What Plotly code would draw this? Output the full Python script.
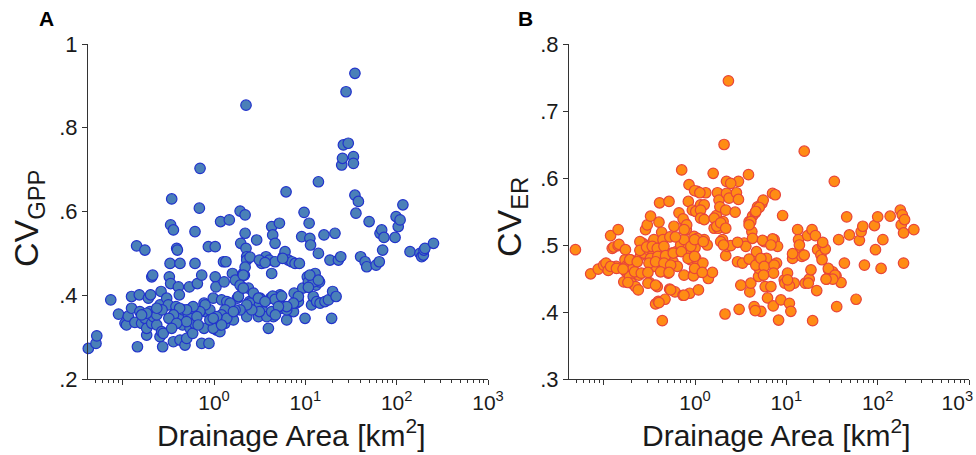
import plotly.graph_objects as go

# ---------------- Panel A: CV of GPP vs drainage area ----------------
gpp_area = [
    0.042, 0.051, 0.052, 0.074, 0.090, 0.106, 0.110, 0.115, 0.125, 0.125,
    0.136, 0.142, 0.145, 0.152, 0.154, 0.161, 0.175, 0.175, 0.183, 0.183,
    0.191, 0.199, 0.202, 0.208, 0.213, 0.208, 0.217, 0.236, 0.236, 0.256,
    0.263, 0.256, 0.267, 0.274, 0.278, 0.303, 0.316, 0.324, 0.330, 0.335,
    0.344, 0.335, 0.359, 0.359, 0.374, 0.383, 0.390, 0.397, 0.407, 0.417,
    0.424, 0.424, 0.442, 0.453, 0.461, 0.481, 0.502, 0.524, 0.537, 0.546,
    0.569, 0.584, 0.609, 0.619, 0.619, 0.657, 0.691, 0.703, 0.733, 0.733,
    0.777, 0.777, 0.797, 0.867, 0.88, 0.90, 0.98, 1.03, 1.03, 1.05,
    1.07, 1.12, 1.16, 1.18, 1.21, 1.27, 1.29, 1.32, 1.35, 1.38,
    1.47, 1.50, 1.59, 1.63, 1.71, 1.80, 1.85, 1.93, 1.96, 2.01,
    2.09, 2.15, 2.19, 2.19, 2.24, 2.24, 2.28, 2.28, 2.28, 2.38,
    2.44, 2.48, 2.70, 2.93, 3.06, 3.14, 3.19, 3.33, 3.47, 3.71,
    3.94, 4.03, 4.17, 4.28, 4.28, 4.39, 4.47, 4.54, 4.66, 4.66,
    4.78, 5.20, 5.28, 5.50, 5.74, 5.99, 6.15, 6.25, 6.52, 6.80,
    7.10, 7.41, 7.54, 7.72, 7.92, 8.39, 8.60, 9.12, 9.36, 9.68,
    9.92, 10.5, 10.8, 11.0, 11.2, 11.4, 11.7, 12.2, 12.8, 13.1,
    13.3, 13.9, 14.3, 13.9, 14.5, 16.0, 16.4, 17.9, 18.6, 19.4,
    19.9, 21.1, 21.7, 23.0, 24.4, 25.0, 25.5, 26.1, 27.9, 29.5,
    33.6, 33.6, 34.9, 34.9, 35.8, 38.1, 40.3, 45.1, 47.0, 49.9,
    59.5, 64.5, 65.7, 68.5, 70.2, 72.6, 96, 98.5, 104, 109,
    117, 140, 180, 188, 196, 199, 204, 253,
    2.48, 3.14, 3.62, 5.65, 2.19, 2.09, 1.93, 2.09, 3.06, 4.39,
    4.66, 5.50, 5.74, 8.39, 12.2, 11.2, 13.9, 10.8, 7.41, 6.25,
    6.25, 3.62, 3.78, 4.28, 5.07, 4.70, 3.14, 2.59, 2.28, 1.93,
    1.70, 1.50, 1.32, 1.21, 1.16, 1.38, 1.63, 1.07, 0.98, 0.90,
    0.80, 0.70, 0.65, 0.59, 0.50, 0.42, 0.36, 0.32, 0.27, 0.236,
    0.183, 0.161, 0.50, 0.39, 0.344, 0.67, 0.98, 1.21,
]
gpp_cv = [
    0.273, 0.285, 0.303, 0.389, 0.355, 0.333, 0.329, 0.350, 0.369, 0.397,
    0.335, 0.518, 0.277, 0.401, 0.361, 0.333, 0.508, 0.345, 0.305, 0.321,
    0.393, 0.361, 0.401, 0.444, 0.448, 0.333, 0.349, 0.329, 0.353, 0.377,
    0.409, 0.301, 0.313, 0.277, 0.309, 0.393, 0.377, 0.444, 0.476, 0.428,
    0.630, 0.568, 0.556, 0.289, 0.357, 0.373, 0.512, 0.508, 0.420, 0.401,
    0.476, 0.293, 0.349, 0.329, 0.365, 0.281, 0.297, 0.353, 0.420, 0.321,
    0.369, 0.309, 0.333, 0.552, 0.476, 0.428, 0.608, 0.703, 0.448, 0.285,
    0.381, 0.321, 0.361, 0.516, 0.285, 0.365, 0.393, 0.516, 0.444, 0.420,
    0.317, 0.345, 0.313, 0.576, 0.389, 0.480, 0.432, 0.333, 0.480, 0.385,
    0.580, 0.361, 0.452, 0.341, 0.436, 0.393, 0.397, 0.601, 0.524, 0.420,
    0.452, 0.448, 0.592, 0.548, 0.512, 0.854, 0.492, 0.349, 0.484, 0.417,
    0.385, 0.381, 0.405, 0.532, 0.349, 0.377, 0.393, 0.476, 0.361, 0.492,
    0.321, 0.484, 0.393, 0.564, 0.452, 0.544, 0.349, 0.357, 0.524, 0.480,
    0.389, 0.572, 0.401, 0.369, 0.492, 0.504, 0.647, 0.341, 0.484, 0.365,
    0.480, 0.361, 0.405, 0.476, 0.381, 0.385, 0.476, 0.540, 0.417, 0.598,
    0.345, 0.444, 0.432, 0.572, 0.536, 0.520, 0.377, 0.397, 0.452, 0.424,
    0.385, 0.500, 0.432, 0.671, 0.381, 0.544, 0.385, 0.389, 0.484, 0.345,
    0.409, 0.548, 0.397, 0.484, 0.492, 0.711, 0.727, 0.759, 0.886, 0.763,
    0.731, 0.715, 0.930, 0.639, 0.596, 0.624, 0.492, 0.480, 0.468, 0.576,
    0.472, 0.480, 0.548, 0.556, 0.508, 0.538, 0.538, 0.588, 0.564, 0.580,
    0.616, 0.504, 0.500, 0.492, 0.496, 0.508, 0.512, 0.524,
    0.491, 0.484, 0.478, 0.488, 0.467, 0.448, 0.424, 0.417, 0.393, 0.398,
    0.390, 0.398, 0.373, 0.397, 0.432, 0.448, 0.436, 0.419, 0.381, 0.365,
    0.373, 0.385, 0.349, 0.361, 0.373, 0.353, 0.361, 0.365, 0.377, 0.365,
    0.365, 0.381, 0.365, 0.353, 0.329, 0.345, 0.361, 0.349, 0.321, 0.341,
    0.377, 0.361, 0.349, 0.373, 0.365, 0.369, 0.353, 0.345, 0.365, 0.369,
    0.357, 0.353, 0.337, 0.333, 0.321, 0.329, 0.345, 0.329,
]

# ---------------- Panel B: CV of ER vs drainage area ----------------
er_area = [
    0.040, 0.041, 0.049, 0.072, 0.087, 0.100, 0.106, 0.112, 0.119, 0.124,
    0.129, 0.137, 0.144, 0.144, 0.147, 0.166, 0.171, 0.173, 0.176, 0.181,
    0.185, 0.192, 0.197, 0.202, 0.209, 0.223, 0.239, 0.243, 0.253, 0.260,
    0.264, 0.275, 0.287, 0.300, 0.308, 0.318, 0.326, 0.334, 0.340, 0.346,
    0.355, 0.364, 0.370, 0.386, 0.396, 0.403, 0.409, 0.420, 0.431, 0.438,
    0.446, 0.457, 0.469, 0.476, 0.509, 0.519, 0.527, 0.555, 0.574, 0.588,
    0.603, 0.624, 0.640, 0.667, 0.696, 0.714, 0.738, 0.757, 0.776, 0.803,
    0.824, 0.845, 0.859, 0.874, 0.896, 0.935, 0.951, 0.975, 1.00, 1.02,
    1.06, 1.09, 1.11, 1.13, 1.15, 1.20, 1.22, 1.26, 1.31, 1.36,
    1.40, 1.55, 1.58, 1.62, 1.71, 1.76, 1.80, 1.83, 1.87, 2.00,
    2.03, 2.08, 2.13, 2.17, 2.17, 2.21, 2.21, 2.26, 2.32, 2.36,
    2.46, 2.75, 2.84, 2.92, 2.99, 2.99, 3.04, 3.17, 3.31, 3.45,
    3.60, 3.85, 3.91, 3.98, 4.08, 4.19, 4.26, 4.44, 4.56, 4.63,
    4.71, 4.83, 4.96, 5.04, 5.26, 5.39, 5.58, 5.72, 5.87, 6.07,
    6.22, 6.77, 7.06, 7.18, 7.36, 7.55, 7.81, 8.01, 8.22, 8.72,
    9.10, 9.48, 10.3, 10.8, 11.2, 11.7, 12.2, 13.3, 13.6, 14.1,
    14.8, 15.7, 16.1, 17.1, 17.8, 19.1, 19.4, 20.8, 21.5, 22.0,
    23.9, 24.6, 25.0, 26.7, 27.7, 29.1, 32.2, 33.5, 35.0, 35.6,
    37.4, 39.7, 43.2, 45.8, 49.0, 58.0, 63.1, 65.9, 68.7, 71.6,
    92.2, 94.6, 100, 109, 114, 137, 177, 181, 186, 192,
    192, 197, 249,
    0.99, 1.02, 0.74, 0.81, 0.76, 0.53, 0.61, 1.06, 0.249, 0.249,
    0.295, 0.340, 0.386, 0.457, 0.90, 0.326, 0.392, 0.476, 0.578, 0.708,
    0.84, 0.99, 0.193, 0.233, 0.313, 0.370, 0.457, 0.541, 0.119, 0.138,
    0.163, 0.218, 0.258, 0.305, 0.420, 0.519, 0.757, 0.96, 0.184, 0.305,
    0.370, 0.541, 0.757, 0.403, 2.46, 1.13, 5.04, 4.63, 4.08, 3.91,
    1.26, 1.15, 1.15, 1.26, 1.62, 1.73, 1.91, 2.17, 4.26, 5.48,
    7.06, 6.77, 25.0, 13.9, 15.7, 11.7, 0.99, 1.23, 1.91, 2.05,
    2.92, 3.91, 4.63, 5.26, 5.72, 7.36, 7.24, 5.62, 0.99, 1.20,
    9.64, 10.8, 10.3, 18.6, 17.4, 4.56, 28.8, 34.1, 32.2, 27.2,
]
er_cv = [
    0.488, 0.482, 0.493, 0.457, 0.464, 0.470, 0.473, 0.462, 0.514, 0.495,
    0.497, 0.468, 0.523, 0.499, 0.501, 0.445, 0.478, 0.493, 0.460, 0.470,
    0.468, 0.453, 0.478, 0.443, 0.465, 0.438, 0.433, 0.455, 0.484, 0.495,
    0.503, 0.488, 0.523, 0.530, 0.493, 0.444, 0.543, 0.473, 0.503, 0.490,
    0.508, 0.468, 0.412, 0.438, 0.416, 0.534, 0.563, 0.495, 0.519, 0.387,
    0.508, 0.483, 0.419, 0.463, 0.458, 0.565, 0.434, 0.488, 0.475, 0.528,
    0.430, 0.490, 0.468, 0.548, 0.500, 0.612, 0.425, 0.508, 0.533, 0.523,
    0.494, 0.565, 0.590, 0.428, 0.478, 0.552, 0.455, 0.513, 0.496, 0.480,
    0.580, 0.433, 0.548, 0.460, 0.560, 0.540, 0.473, 0.508, 0.578, 0.500,
    0.450, 0.459, 0.607, 0.525, 0.544, 0.578, 0.525, 0.567, 0.557, 0.508,
    0.535, 0.650, 0.397, 0.552, 0.484, 0.577, 0.595, 0.498, 0.745, 0.570,
    0.499, 0.549, 0.578, 0.475, 0.595, 0.568, 0.404, 0.440, 0.473, 0.503,
    0.498, 0.605, 0.535, 0.430, 0.443, 0.520, 0.543, 0.408, 0.548, 0.483,
    0.490, 0.557, 0.453, 0.465, 0.401, 0.562, 0.567, 0.505, 0.438, 0.480,
    0.421, 0.438, 0.577, 0.409, 0.508, 0.575, 0.473, 0.498, 0.388, 0.418,
    0.544, 0.448, 0.458, 0.413, 0.401, 0.480, 0.443, 0.523, 0.508, 0.487,
    0.483, 0.640, 0.443, 0.514, 0.449, 0.523, 0.387, 0.514, 0.432, 0.493,
    0.485, 0.478, 0.500, 0.494, 0.449, 0.463, 0.460, 0.595, 0.454, 0.408,
    0.508, 0.444, 0.473, 0.542, 0.515, 0.419, 0.507, 0.520, 0.528, 0.470,
    0.529, 0.493, 0.542, 0.465, 0.508, 0.543, 0.552, 0.530, 0.545, 0.518,
    0.473, 0.538, 0.523,
    0.581, 0.550, 0.539, 0.530, 0.523, 0.512, 0.512, 0.510, 0.505, 0.492,
    0.497, 0.498, 0.495, 0.498, 0.498, 0.480, 0.483, 0.484, 0.488, 0.490,
    0.480, 0.483, 0.478, 0.475, 0.473, 0.475, 0.473, 0.470, 0.468, 0.465,
    0.464, 0.460, 0.458, 0.459, 0.460, 0.459, 0.455, 0.454, 0.444, 0.443,
    0.440, 0.433, 0.425, 0.414, 0.592, 0.578, 0.556, 0.550, 0.535, 0.530,
    0.560, 0.552, 0.540, 0.538, 0.540, 0.528, 0.533, 0.525, 0.510, 0.507,
    0.509, 0.500, 0.504, 0.500, 0.485, 0.487, 0.508, 0.505, 0.505, 0.500,
    0.504, 0.479, 0.470, 0.480, 0.468, 0.470, 0.458, 0.455, 0.465, 0.459,
    0.443, 0.439, 0.448, 0.463, 0.443, 0.402, 0.465, 0.455, 0.449, 0.449,
]

x_tickvals = [0.1, 1, 10, 100, 1000]
xa_ticktext = ["", "10<sup>0</sup>", "10<sup>1</sup>", "10<sup>2</sup>", "10<sup>3</sup>"]
xb_ticktext = ["", "10<sup>0</sup>", "10<sup>1</sup>", "10<sup>2</sup>",
               "10<sup>3</sup>&nbsp;&nbsp;&nbsp;&nbsp;"]
x_minor = [m * 10.0 ** k for k in range(-2, 3) for m in range(2, 10)]

ya_vals = [0.2, 0.4, 0.6, 0.8, 1.0]
ya_text = [".2", ".4", ".6", ".8", "1"]
yb_vals = [0.3, 0.4, 0.5, 0.6, 0.7, 0.8]
yb_text = [".3", ".4", ".5", ".6", ".7", ".8"]

FONT = "Arial, Liberation Sans, sans-serif"
TXT = "#1a1a1a"
AX = "#333333"

fig = go.Figure()
fig.add_trace(go.Scatter(
    x=gpp_area, y=gpp_cv, mode="markers", xaxis="x", yaxis="y", cliponaxis=False,
    marker=dict(size=10.5, color="#4a80b8", line=dict(color="#2233cc", width=1.2)),
    showlegend=False))
fig.add_trace(go.Scatter(
    x=er_area, y=er_cv, mode="markers", xaxis="x2", yaxis="y2", cliponaxis=False,
    marker=dict(size=10.5, color="#ff8c14", line=dict(color="#e8453a", width=1.2)),
    showlegend=False))

xcommon = dict(type="log", range=[-1.38, 3.0], showgrid=False, zeroline=False,
               automargin=False, ticklabeloverflow="allow",
               showline=True, linecolor=AX, linewidth=1,
               ticks="outside", ticklen=5, tickcolor=AX, tickwidth=1,
               tickmode="array", tickvals=x_tickvals,
               tickfont=dict(family=FONT, size=21, color=TXT),
               minor=dict(tickmode="array", tickvals=x_minor, ticks="outside",
                          ticklen=3, tickcolor=AX, tickwidth=1, showgrid=False))
ycommon = dict(showgrid=False, zeroline=False, showline=True, linecolor=AX, linewidth=1,
               automargin=False,
               ticks="outside", ticklen=5, tickcolor=AX, tickwidth=1,
               tickfont=dict(family=FONT, size=22, color=TXT), tickmode="array")

def note(text, px, py, size, angle=0, bold=False):
    return dict(text=text, x=px / 976, y=1 - py / 455, xref="paper", yref="paper",
                xanchor="center", yanchor="middle", showarrow=False, textangle=angle,
                font=dict(family=FONT, size=size, color="black" if bold else TXT))

fig.update_layout(
    template="none",
    width=976, height=455, margin=dict(l=0, r=0, t=0, b=0, autoexpand=False),
    paper_bgcolor="white", plot_bgcolor="white",
    xaxis=dict(domain=[88 / 976, 488 / 976], anchor="y", ticktext=xa_ticktext, **xcommon),
    yaxis=dict(domain=[1 - 379 / 455, 1 - 44 / 455], anchor="x", range=[0.2, 1.0],
               tickvals=ya_vals, ticktext=ya_text, **ycommon),
    xaxis2=dict(domain=[569 / 976, 969 / 976], anchor="y2", ticktext=xb_ticktext, **xcommon),
    yaxis2=dict(domain=[1 - 379 / 455, 1 - 44 / 455], anchor="x2", range=[0.3, 0.8],
                tickvals=yb_vals, ticktext=yb_text, **ycommon),
    annotations=[
        note("<b>A</b>", 46, 19, 21, bold=True),
        note("<b>B</b>", 525, 19, 21, bold=True),
        note("Drainage Area [km<sup>2</sup>]", 291, 433, 30),
        note("Drainage Area [km<sup>2</sup>]", 776, 433, 30),
        note("CV<sub>GPP</sub>", 28, 218, 34, angle=-90),
        note("CV<sub>ER</sub>", 511, 217, 34, angle=-90),
    ],
)

fig.write_html("out.html",
               config={"displayModeBar": False},
               post_script="document.body.style.margin='0px';"
                           "document.body.style.overflow='hidden';")
